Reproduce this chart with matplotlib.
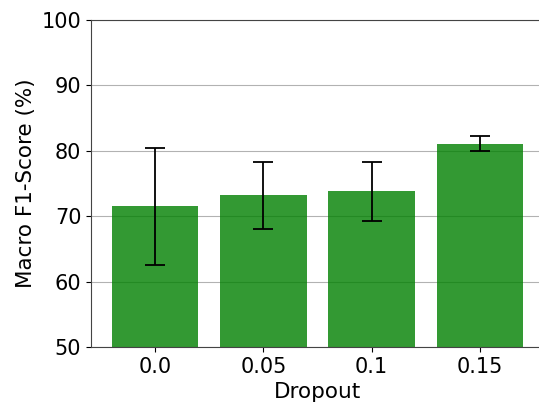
import numpy as np
import matplotlib
matplotlib.use("Agg")
import matplotlib.pyplot as plt

dropout = ["0.0", "0.05", "0.1", "0.15"]
f1_mean = [71.5, 73.2, 73.8, 81.1]
f1_err = [8.9, 5.1, 4.5, 1.1]

fig = plt.figure(figsize=(5.39, 4.04), dpi=100)
ax = fig.add_axes([91 / 539, 57 / 404, 453 / 539, 327 / 404])

x = np.arange(len(dropout))
ax.bar(x, f1_mean, width=0.8, color="green", alpha=0.8,
       yerr=f1_err, capsize=7, error_kw={"elinewidth": 1.3, "capthick": 1.3})

ax.set_ylim(50, 100)
ax.set_xticks(x)
ax.set_xticklabels(dropout)
ax.tick_params(labelsize=15)
ax.set_xlabel("Dropout", fontsize=15.5)
ax.set_ylabel("Macro F1-Score (%)", fontsize=15.5)
ax.yaxis.grid(True, color="gray", alpha=0.6)
ax.set_axisbelow(True)
for s in ax.spines.values():
    s.set_color("#444444")

fig.savefig("out.png", dpi=100)
